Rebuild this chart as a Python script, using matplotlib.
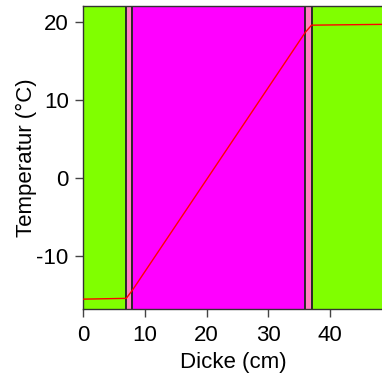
import matplotlib
matplotlib.use("Agg")
import matplotlib.pyplot as plt
from matplotlib.patches import Rectangle

# layer boundaries (cm) and colours
layer_start = [0, 7, 8, 36, 37]
layer_end = [7, 8, 36, 37, 50]
layer_color = ["#80FF00", "#FF80C0", "#FF00FF", "#FF80C0", "#80FF00"]

# temperature profile
dicke = [0, 7, 8, 36, 37, 48.4]
temp = [-15.55, -15.45, -14.4, 18.7, 19.6, 19.7]

xticks = [0, 10, 20, 30, 40]
yticks = [-10, 0, 10, 20]

plt.rcParams['font.family'] = ['Liberation Sans', 'DejaVu Sans']
plt.rcParams['axes.unicode_minus'] = False

fig = plt.figure(figsize=(3.82, 3.79), dpi=100)
ax = fig.add_axes([0.2173, 0.185, 0.7827, 0.799])

ymin, ymax = -16.8, 22.05
for s, e, c in zip(layer_start, layer_end, layer_color):
    ax.add_patch(Rectangle((s, ymin - 5), e - s, ymax - ymin + 10,
                           facecolor=c, edgecolor="#2a2a2a", lw=1.4, zorder=1))

ax.plot(dicke, temp, color="red", lw=1.0, zorder=3)

ax.set_xlim(0, 48.4)
ax.set_ylim(ymin, ymax)
ax.set_xticks(xticks)
ax.set_yticks(yticks)
ax.tick_params(labelsize=16, length=5.8, width=1, color="#444444")
ax.tick_params(axis="x", pad=5.5)
ax.tick_params(axis="y", pad=4.5)
ax.set_xlabel("Dicke (cm)", fontsize=16)
ax.set_ylabel("Temperatur (°C)", fontsize=16)
ax.xaxis.set_label_coords(0.503, -0.178)
ax.yaxis.set_label_coords(-0.19, 0.5)
ax.xaxis.label.set_va("center")
ax.yaxis.label.set_va("center")
for side in ["left", "bottom", "top"]:
    ax.spines[side].set_color("#333333")
    ax.spines[side].set_linewidth(1.0)
ax.spines["right"].set_visible(False)

fig.savefig("out.png", dpi=100)
